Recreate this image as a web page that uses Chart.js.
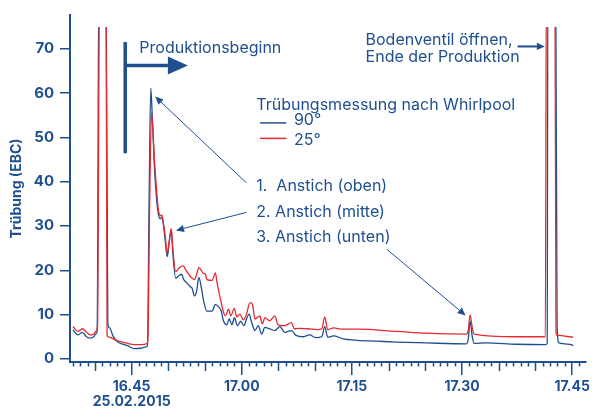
<!DOCTYPE html>
<html>
<head>
<meta charset="utf-8">
<script src="https://cdn.jsdelivr.net/npm/chart.js@4.4.0/dist/chart.umd.min.js"></script>
<style>
  html, body { margin: 0; padding: 0; background: #ffffff; }
  #wrap { width: 594px; height: 409px; }
</style>
</head>
<body>
<div id="wrap"><canvas id="turbidityChart" width="594" height="409"></canvas></div>
<script>
// time is given in minutes after 16:00, turbidity in EBC
const time90 = [37.0, 37.7, 38.3, 38.85, 39.3, 39.85, 40.1, 40.3, 40.55, 41.5, 41.75, 42.0, 42.45, 43.1, 43.9, 44.45, 45.35, 46.25, 46.95, 47.15, 47.37, 47.6,
  47.8, 48.05, 48.3, 48.6, 48.9, 49.1, 49.3, 49.55, 49.85, 50.1, 50.4, 50.6, 51.0, 51.45, 51.8, 52.1, 52.55, 52.9, 53.25, 53.55, 53.85, 54.15, 54.5, 54.8,
  55.25, 55.95, 56.4, 56.85, 57.2, 57.5, 57.95, 58.3, 58.65, 59.0, 59.4, 59.85, 60.3, 60.7, 61.0, 61.35, 61.8, 62.25, 62.7, 63.15, 63.8, 64.5, 65.2, 65.85,
  66.75, 67.4, 68.3, 69.25, 70.05, 70.9, 71.3, 71.7, 72.5, 73.7, 75.75, 78.45, 81.15, 85.2, 90.6, 90.85, 91.1, 91.4, 91.65, 93.3, 97.35, 101.4, 101.6,
  101.7, 102.75, 102.95, 103.2, 104.75, 105.15];
const value90 = [6.5, 5.4, 6.0, 5.0, 4.7, 5.0, 5.6, 6.4, 90, 90, 7.9, 7.0, 5.2, 3.8, 3.3, 3.0, 2.3, 2.4, 2.7, 2.9, 35, 61.1,
  55, 45, 38, 33, 31.6, 32, 30.5, 27, 23.1, 26, 29.1, 24, 18.2, 18.8, 19.1, 17.9, 17.1, 16.4, 15.9, 14.2, 15.3, 18.4, 16.0, 13.1,
  10.8, 10.8, 12.3, 11.7, 10.8, 8.6, 7.7, 9.0, 7.7, 9.3, 7.5, 8.5, 7.5, 9.3, 10.1, 8.2, 6.4, 7.5, 5.6, 7.1, 6.8, 6.4, 7.3, 6.0,
  6.4, 5.3, 5.0, 5.4, 4.8, 5.0, 7.3, 4.9, 5.2, 4.6, 4.2, 4.0, 3.8, 3.6, 3.4, 4.5, 8.5, 5.0, 3.5, 3.6, 3.3, 3.2, 3.5,
  90, 90, 7.7, 3.6, 3.3, 3.0];

const time25 = [37.0, 37.7, 38.3, 38.85, 39.4, 39.85, 40.2, 40.35, 40.65, 41.5, 41.65, 41.9, 42.9, 44.25, 45.35, 46.25, 47.0, 47.2, 47.45, 47.7,
  47.85, 48.1, 48.4, 48.65, 48.95, 49.1, 49.3, 49.55, 49.85, 50.1, 50.4, 50.6, 51.0, 51.45, 52.05, 52.35, 52.65, 53.0, 53.25, 53.55, 53.9, 54.15,
  54.35, 54.7, 55.05, 55.25, 55.95, 56.4, 56.6, 56.85, 57.15, 57.4, 57.75, 58.2, 58.5, 59.0, 59.3, 59.75, 60.2, 60.65, 61.1, 61.45, 61.8, 62.45,
  62.8, 63.15, 63.8, 64.5, 64.95, 65.85, 66.75, 67.2, 67.65, 69.0, 70.35, 70.9, 71.3, 71.7, 72.5, 73.7, 75.75, 81.15, 85.2, 90.6, 90.85, 91.1,
  91.4, 91.65, 97.35, 101.35, 101.5, 102.65, 102.8, 103.0, 105.15];
const value25 = [7.3, 6.2, 6.8, 6.0, 5.4, 5.6, 6.4, 7.5, 90, 90, 5.2, 4.9, 4.2, 3.6, 3.2, 3.2, 3.4, 4.0, 35, 55.5,
  53, 45, 38, 33.5, 32.3, 32.5, 31, 28, 23.8, 26.5, 29.4, 25, 19.7, 20.5, 21.0, 20.1, 19.4, 18.6, 18.2, 17.9, 19.4, 20.6,
  20.3, 19.4, 19.1, 17.9, 17.7, 19.4, 17.5, 15.3, 13.1, 11.2, 9.7, 11.2, 9.7, 11.4, 9.5, 10.1, 8.8, 10.1, 12.7, 12.3, 9.0, 9.7,
  7.9, 9.3, 8.6, 9.7, 7.7, 7.5, 8.2, 6.8, 6.9, 6.8, 6.6, 6.8, 9.5, 6.6, 7.0, 6.7, 6.7, 6.2, 5.8, 5.6, 6.5, 9.9,
  7.0, 5.6, 5.0, 5.0, 90, 90, 6.0, 5.3, 4.9];

const xTickValues = [45, 60, 75, 90, 105];
const xTickLabels = [['16.45', '25.02.2015'], '17.00', '17.15', '17.30', '17.45'];
const yTickValues = [0, 10, 20, 30, 40, 50, 60, 70];

const seriesNames = ['90°', '25°'];
const legendTitle = 'Trübungsmessung nach Whirlpool';
const tapLabels = ['1.  Anstich (oben)', '2. Anstich (mitte)', '3. Anstich (unten)'];

const navy = '#1f4f8f';
const red = '#e52b2f';
const textFont = '16px Inter, sans-serif';

// annotation anchors in data units (minutes, EBC)
const notes = [
  { text: 'Produktionsbeginn', x: 46.05, y: 70.15 },
  { text: 'Bodenventil öffnen,', x: 76.86, y: 72.0 },
  { text: 'Ende der Produktion', x: 76.86, y: 68.0 },
  { text: legendTitle, x: 61.97, y: 57.2 },
  { text: seriesNames[0], x: 67.1, y: 53.8 },
  { text: seriesNames[1], x: 67.1, y: 49.4 },
  { text: tapLabels[0], x: 61.97, y: 39.0 },
  { text: tapLabels[1], x: 61.97, y: 33.1 },
  { text: tapLabels[2], x: 61.97, y: 27.5 }
];
const arrows = [
  { from: [60.62, 39.75], to: [48.2, 59.2], width: 1, head: 8 },
  { from: [60.66, 33.07], to: [51.04, 29.0], width: 1, head: 8 },
  { from: [79.78, 24.7], to: [90.49, 9.8], width: 1, head: 8 },
  { from: [97.56, 70.5], to: [101.28, 70.5], width: 2, head: 8 },
  { from: [44.12, 66.2], to: [52.66, 66.2], width: 3.5, head: 20 }
];
const startBar = { x: 44.12, y1: 71.5, y2: 46.4 };
const legendLines = [
  { color: navy, x1: 62.47, x2: 66.06, y: 53.25 },
  { color: red, x1: 62.47, x2: 66.06, y: 49.76 }
];

const toPoints = (xs, ys) => xs.map((x, i) => ({ x: x, y: ys[i] }));

function drawArrow(ctx, x1, y1, x2, y2, width, head) {
    const ang = Math.atan2(y2 - y1, x2 - x1);
    const bx = x2 - head * Math.cos(ang);
    const by = y2 - head * Math.sin(ang);
    ctx.lineWidth = width;
    ctx.beginPath();
    ctx.moveTo(x1, y1);
    ctx.lineTo(bx, by);
    ctx.stroke();
    const hw = head * 0.45;
    ctx.beginPath();
    ctx.moveTo(x2, y2);
    ctx.lineTo(bx + hw * Math.sin(ang), by - hw * Math.cos(ang));
    ctx.lineTo(bx - hw * Math.sin(ang), by + hw * Math.cos(ang));
    ctx.closePath();
    ctx.fill();
}

// minute ticks on the time axis, longer every 5 minutes
const minuteTicks = {
    id: 'minuteTicks',
    afterDraw(chart) {
        const sx = chart.scales.x;
        const ctx = chart.ctx;
        ctx.save();
        ctx.strokeStyle = navy;
        ctx.lineWidth = 1.5;
        for (let m = Math.ceil(sx.min); m <= sx.max; m++) {
            if (m % 15 === 0) continue;
            const len = m % 5 === 0 ? 9 : 4.5;
            const px = Math.round(sx.getPixelForValue(m)) + 0.5;
            ctx.beginPath();
            ctx.moveTo(px, sx.top);
            ctx.lineTo(px, sx.top + len);
            ctx.stroke();
        }
        ctx.restore();
    }
};

const annotations = {
    id: 'annotations',
    afterDraw(chart) {
        const sx = chart.scales.x, sy = chart.scales.y;
        const ctx = chart.ctx;
        const X = v => sx.getPixelForValue(v);
        const Y = v => sy.getPixelForValue(v);
        ctx.save();
        ctx.fillStyle = navy;
        ctx.strokeStyle = navy;
        ctx.font = textFont;
        ctx.textBaseline = 'middle';
        ctx.textAlign = 'left';
        notes.forEach(n => ctx.fillText(n.text, X(n.x), Y(n.y)));

        arrows.forEach(a => drawArrow(ctx, X(a.from[0]), Y(a.from[1]), X(a.to[0]), Y(a.to[1]), a.width, a.head));

        ctx.lineWidth = 3.5;
        ctx.beginPath();
        ctx.moveTo(X(startBar.x), Y(startBar.y1));
        ctx.lineTo(X(startBar.x), Y(startBar.y2));
        ctx.stroke();

        ctx.lineWidth = 1.5;
        legendLines.forEach(l => {
            ctx.strokeStyle = l.color;
            ctx.beginPath();
            ctx.moveTo(X(l.x1), Y(l.y));
            ctx.lineTo(X(l.x2), Y(l.y));
            ctx.stroke();
        });
        ctx.restore();
    }
};

const ctx = document.getElementById('turbidityChart').getContext('2d');
new Chart(ctx, {
    type: 'line',
    data: {
        datasets: [{
            label: seriesNames[1],
            data: toPoints(time25, value25),
            borderColor: red,
            borderWidth: 1.3,
            pointRadius: 0,
            cubicInterpolationMode: 'monotone',
            clip: { left: 0, top: -12, right: 0, bottom: 0 }
        }, {
            label: seriesNames[0],
            data: toPoints(time90, value90),
            borderColor: navy,
            borderWidth: 1.3,
            pointRadius: 0,
            cubicInterpolationMode: 'monotone',
            clip: { left: 0, top: -12, right: 0, bottom: 0 }
        }]
    },
    options: {
        responsive: false,
        animation: false,
        layout: { padding: { top: 10, right: 4, left: 0, bottom: 0 } },
        plugins: {
            legend: { display: false },
            tooltip: { enabled: false }
        },
        scales: {
            x: {
                type: 'linear',
                min: 36.6,
                max: 106.8,
                afterBuildTicks: (scale) => { scale.ticks = xTickValues.map(v => ({ value: v })); },
                afterFit: (scale) => { scale.height = 47; },
                border: { color: navy, width: 2 },
                grid: { drawOnChartArea: false, color: navy, tickLength: 13, lineWidth: 1.5 },
                ticks: {
                    autoSkip: false,
                    maxRotation: 0,
                    padding: 4,
                    color: navy,
                    font: { family: 'Inter, sans-serif', size: 14, weight: 'bold', lineHeight: 1.1 },
                    callback: (value) => {
                        const i = xTickValues.indexOf(value);
                        return i >= 0 ? xTickLabels[i] : '';
                    }
                }
            },
            y: {
                min: -0.7,
                max: 77.6,
                afterBuildTicks: (scale) => { scale.ticks = yTickValues.map(v => ({ value: v })); },
                afterFit: (scale) => { scale.width = 70; },
                border: { color: navy, width: 2 },
                grid: { drawOnChartArea: false, color: navy, tickLength: 10, lineWidth: 1.5 },
                title: {
                    display: true,
                    text: 'Trübung (EBC)',
                    color: navy,
                    padding: { top: 8, bottom: 0 },
                    font: { family: 'Inter, sans-serif', size: 14, weight: 'bold' }
                },
                ticks: {
                    padding: 6,
                    color: navy,
                    font: { family: 'Inter, sans-serif', size: 15, weight: 'bold' }
                }
            }
        }
    },
    plugins: [minuteTicks, annotations]
});
</script>
</body>
</html>
